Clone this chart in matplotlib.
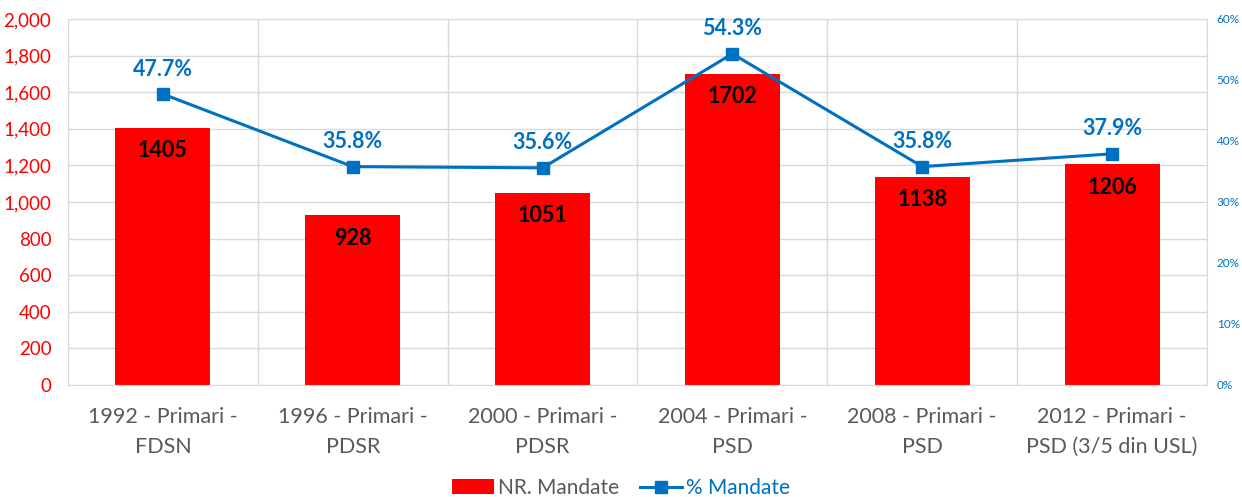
import matplotlib
matplotlib.use("Agg")
import matplotlib.pyplot as plt
from matplotlib.ticker import FuncFormatter, MultipleLocator
import numpy as np

plt.rcParams['font.family'] = ['Lato', 'DejaVu Sans']

categories = ["1992 - Primari -\nFDSN", "1996 - Primari -\nPDSR", "2000 - Primari -\nPDSR",
              "2004 - Primari -\nPSD", "2008 - Primari -\nPSD", "2012 - Primari -\nPSD (3/5 din USL)"]
mandates = [1405, 928, 1051, 1702, 1138, 1206]
pct_mandates = [47.7, 35.8, 35.6, 54.3, 35.8, 37.9]

RED = "#FF0000"
BLUE = "#0070C0"
GRID = "#D9D9D9"

fig = plt.figure(figsize=(12.42, 4.97), dpi=100)
ax = fig.add_axes([68/1242, 1-385/497, (1207-68)/1242, (385-19)/497])
x = np.arange(len(categories))

bars = ax.bar(x, mandates, width=0.5, color=RED, zorder=2, label="NR. Mandate")
ax.set_xlim(-0.5, len(categories)-0.5)
ax.set_ylim(0, 2000)
ax.yaxis.set_major_locator(MultipleLocator(200))
ax.yaxis.set_major_formatter(FuncFormatter(lambda v, p: f"{int(v):,}"))
ax.tick_params(axis='y', colors=RED, labelsize=13.5, length=0, pad=12)
ax.set_xticks(x)
ax.set_xticklabels(categories, fontsize=15.5, color="#595959", linespacing=1.6)
ax.tick_params(axis='x', length=0, pad=16)
ax.grid(axis='y', color=GRID, linewidth=1, zorder=0)
for b in np.arange(-0.5, len(categories), 1.0):
    ax.axvline(b, color=GRID, linewidth=1, zorder=0)
for s in ax.spines.values():
    s.set_color(GRID)
for i, v in enumerate(mandates):
    ax.text(i, v - 125, str(v), ha='center', va='center', fontsize=15.5, fontweight='bold', color='black', zorder=4)

ax2 = ax.twinx()
ax2.set_ylim(0, 0.6)
ax2.yaxis.set_major_locator(MultipleLocator(0.1))
ax2.yaxis.set_major_formatter(FuncFormatter(lambda v, p: f"{int(round(v*100))}%"))
ax2.tick_params(axis='y', colors=BLUE, labelsize=8.5, length=0, pad=7)
for s in ax2.spines.values():
    s.set_visible(False)
vals = [p/100 for p in pct_mandates]
ax2.plot(x, vals, color=BLUE, linewidth=2.2, marker='s', markersize=9, zorder=5, label="% Mandate")
for i, v in enumerate(vals):
    ax2.text(i, v + 0.041, f"{pct_mandates[i]:.1f}%", ha='center', va='center', fontsize=15.5, fontweight='bold', color=BLUE)

h1, l1 = ax.get_legend_handles_labels()
h2, l2 = ax2.get_legend_handles_labels()
leg = fig.legend(h1 + h2, l1 + l2, loc='center', bbox_to_anchor=(0.5, 1-488/497), ncol=2, frameon=False,
                 fontsize=15, handlelength=2.0, columnspacing=1.0, handletextpad=0.2)
for t, c in zip(leg.get_texts(), ["#595959", BLUE]):
    t.set_color(c)

fig.savefig("out.png", dpi=100)
